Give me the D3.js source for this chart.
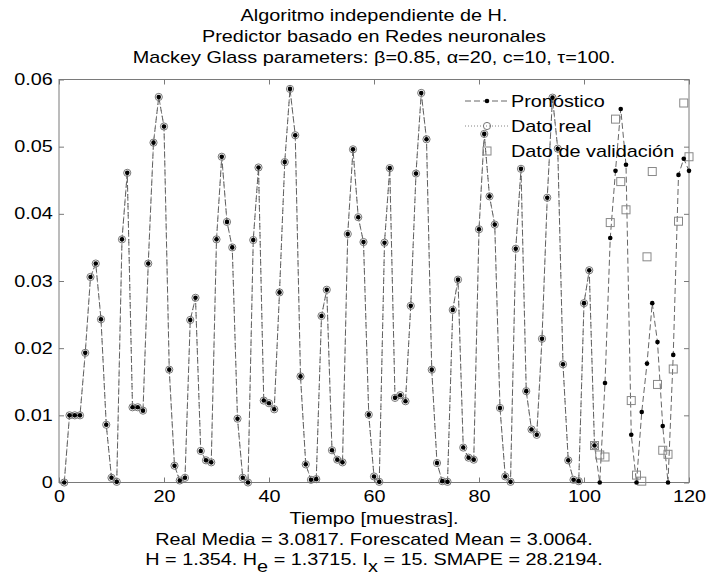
<!DOCTYPE html>
<html>
<head>
<meta charset="utf-8">
<script src="https://cdn.jsdelivr.net/npm/d3@7"></script>
<style>
  html, body { margin: 0; padding: 0; background: #fff; }
  svg { display: block; font-family: "Liberation Sans", Arial, Helvetica, sans-serif; }
</style>
</head>
<body>
<svg id="chart" width="707" height="576"></svg>
<script>
// Forecast (Pronóstico), samples 1..120
const forecast = [
  0.0000, 0.0100, 0.0100, 0.0100, 0.0193, 0.0306, 0.0326, 0.0243, 0.0086, 0.0007,
  0.0001, 0.0362, 0.0461, 0.0112, 0.0112, 0.0107, 0.0326, 0.0506, 0.0574, 0.0530,
  0.0168, 0.0025, 0.0003, 0.0007, 0.0242, 0.0275, 0.0047, 0.0033, 0.0030, 0.0362,
  0.0485, 0.0388, 0.0350, 0.0095, 0.0007, 0.0000, 0.0361, 0.0469, 0.0122, 0.0118,
  0.0109, 0.0283, 0.0477, 0.0586, 0.0517, 0.0158, 0.0027, 0.0004, 0.0005, 0.0248,
  0.0287, 0.0048, 0.0034, 0.0030, 0.0370, 0.0496, 0.0395, 0.0358, 0.0101, 0.0009,
  0.0001, 0.0357, 0.0468, 0.0126, 0.0130, 0.0121, 0.0263, 0.0460, 0.0580, 0.0511,
  0.0168, 0.0029, 0.0002, 0.0001, 0.0257, 0.0302, 0.0052, 0.0037, 0.0034, 0.0377,
  0.0519, 0.0426, 0.0384, 0.0111, 0.0009, 0.0001, 0.0348, 0.0467, 0.0136, 0.0079,
  0.0071, 0.0214, 0.0424, 0.0573, 0.0497, 0.0176, 0.0033, 0.0004, 0.0002, 0.0267,
  0.0316, 0.0055, 0.0000, 0.0148, 0.0364, 0.0464, 0.0556, 0.0473, 0.0071, 0.0000,
  0.0105, 0.0177, 0.0267, 0.0209, 0.0084, 0.0000, 0.0190, 0.0458, 0.0482, 0.0464
];

// Real data (Dato real), samples 1..102
const realData = [
  0.0000, 0.0100, 0.0100, 0.0100, 0.0193, 0.0306, 0.0326, 0.0243, 0.0086, 0.0007,
  0.0001, 0.0362, 0.0461, 0.0112, 0.0112, 0.0107, 0.0326, 0.0506, 0.0574, 0.0530,
  0.0168, 0.0025, 0.0003, 0.0007, 0.0242, 0.0275, 0.0047, 0.0033, 0.0030, 0.0362,
  0.0485, 0.0388, 0.0350, 0.0095, 0.0007, 0.0000, 0.0361, 0.0469, 0.0122, 0.0118,
  0.0109, 0.0283, 0.0477, 0.0586, 0.0517, 0.0158, 0.0027, 0.0004, 0.0005, 0.0248,
  0.0287, 0.0048, 0.0034, 0.0030, 0.0370, 0.0496, 0.0395, 0.0358, 0.0101, 0.0009,
  0.0001, 0.0357, 0.0468, 0.0126, 0.0130, 0.0121, 0.0263, 0.0460, 0.0580, 0.0511,
  0.0168, 0.0029, 0.0002, 0.0001, 0.0257, 0.0302, 0.0052, 0.0037, 0.0034, 0.0377,
  0.0519, 0.0426, 0.0384, 0.0111, 0.0009, 0.0001, 0.0348, 0.0467, 0.0136, 0.0079,
  0.0071, 0.0214, 0.0424, 0.0573, 0.0497, 0.0176, 0.0033, 0.0004, 0.0002, 0.0267,
  0.0316, 0.0055
];

// Validation data (Dato de validación), samples 102..120
const validationStart = 102;
const validation = [
  0.0055, 0.0041, 0.0038, 0.0387, 0.0541, 0.0448, 0.0406, 0.0122, 0.0011, 0.0002,
  0.0336, 0.0463, 0.0146, 0.0048, 0.0042, 0.0169, 0.0389, 0.0565, 0.0485
];

const xTicks = [0, 20, 40, 60, 80, 100, 120];
const yTicks = [0, 0.01, 0.02, 0.03, 0.04, 0.05, 0.06];
const titleLines = [
  "Algoritmo independiente de H.",
  "Predictor basado en Redes neuronales",
  "Mackey Glass parameters: \u03B2=0.85, \u03B1=20, c=10, \u03C4=100."
];
const legendLabels = ["Pronóstico", "Dato real", "Dato de validación"];

const svg = d3.select("#chart");
const plotLeft = 59, plotRight = 689, plotTop = 79.5, plotBottom = 482.5;

const x = d3.scaleLinear().domain([0, 120]).range([plotLeft, plotRight]);
const y = d3.scaleLinear().domain([0, 0.06]).range([plotBottom, plotTop]);

const frameColor = "#7a7a7a";
const fs = 16;
const sx = 1.24;   // horizontal stretch of all lettering

// Frame
svg.append("rect")
  .attr("x", plotLeft).attr("y", plotTop)
  .attr("width", plotRight - plotLeft).attr("height", plotBottom - plotTop)
  .attr("fill", "none").attr("stroke", frameColor).attr("stroke-width", 1);

// Axes with inward ticks on all four sides
const axisStyle = g => {
  g.select(".domain").remove();
  g.selectAll(".tick line").attr("stroke", frameColor);
  g.selectAll(".tick text").attr("fill", "#000").style("font-size", fs + "px")
    .style("font-family", "'Liberation Sans', Arial, sans-serif")
    .attr("transform", `scale(${sx},1)`);
};
svg.append("g").attr("transform", `translate(0,${plotBottom})`)
  .call(d3.axisBottom(x).tickValues(xTicks).tickSizeInner(-5).tickPadding(8).tickFormat(d3.format("d")))
  .call(axisStyle);
svg.append("g").attr("transform", `translate(0,${plotTop})`)
  .call(d3.axisTop(x).tickValues(xTicks).tickSizeInner(-5).tickFormat(""))
  .call(axisStyle);
svg.append("g").attr("transform", `translate(${plotLeft},0)`)
  .call(d3.axisLeft(y).tickValues(yTicks).tickSizeInner(-5).tickPadding(5).tickFormat(d => d === 0 ? "0" : d3.format(".2f")(d)))
  .call(axisStyle);
svg.append("g").attr("transform", `translate(${plotRight},0)`)
  .call(d3.axisRight(y).tickValues(yTicks).tickSizeInner(-5).tickFormat(""))
  .call(axisStyle);

const plot = svg.append("g");

const realPts = realData.map((v, i) => [i + 1, v]);
const fcPts = forecast.map((v, i) => [i + 1, v]);
const valPts = validation.map((v, i) => [validationStart + i, v]);
const line = d3.line().x(d => x(d[0])).y(d => y(d[1]));

// Real data: dotted line
plot.append("path").datum(realPts).attr("d", line)
  .attr("fill", "none").attr("stroke", "#666").attr("stroke-width", 0.8)
  .attr("stroke-dasharray", "1,2");

// Forecast: dashed line
plot.append("path").datum(fcPts).attr("d", line)
  .attr("fill", "none").attr("stroke", "#555").attr("stroke-width", 0.9)
  .attr("stroke-dasharray", "6,3");

// Real data circles
plot.selectAll("circle.real").data(realPts).join("circle")
  .attr("class", "real")
  .attr("cx", d => x(d[0])).attr("cy", d => y(d[1])).attr("r", 3.6)
  .attr("fill", "none").attr("stroke", "#777").attr("stroke-width", 1);

// Validation squares
const sq = 8;
plot.selectAll("rect.val").data(valPts).join("rect")
  .attr("class", "val")
  .attr("x", d => x(d[0]) - sq / 2).attr("y", d => y(d[1]) - sq / 2)
  .attr("width", sq).attr("height", sq)
  .attr("fill", "none").attr("stroke", "#888").attr("stroke-width", 1);

// Forecast dots
plot.selectAll("circle.fc").data(fcPts).join("circle")
  .attr("class", "fc")
  .attr("cx", d => x(d[0])).attr("cy", d => y(d[1])).attr("r", 2.3)
  .attr("fill", "#000");

// Stretched text helper
function label(parent, tx, ty, str, anchor) {
  return parent.append("text")
    .attr("transform", `translate(${tx},${ty}) scale(${sx},1)`)
    .attr("text-anchor", anchor || "middle")
    .style("font-size", fs + "px")
    .text(str);
}

// Legend (no box)
const lg = svg.append("g");
const lx0 = 465, lx1 = 508, lxm = 487, ltx = 511;
const ly = [101, 126, 151];
lg.append("line").attr("x1", lx0).attr("x2", lx1).attr("y1", ly[0]).attr("y2", ly[0])
  .attr("stroke", "#555").attr("stroke-width", 0.9).attr("stroke-dasharray", "6,3");
lg.append("circle").attr("cx", lxm).attr("cy", ly[0]).attr("r", 2.3).attr("fill", "#000");
lg.append("line").attr("x1", lx0).attr("x2", lx1).attr("y1", ly[1]).attr("y2", ly[1])
  .attr("stroke", "#666").attr("stroke-width", 0.8).attr("stroke-dasharray", "1,2");
lg.append("circle").attr("cx", lxm).attr("cy", ly[1]).attr("r", 3.6)
  .attr("fill", "none").attr("stroke", "#777");
lg.append("rect").attr("x", lxm - sq / 2).attr("y", ly[2] - sq / 2).attr("width", sq).attr("height", sq)
  .attr("fill", "none").attr("stroke", "#888");
legendLabels.forEach((t, i) => label(lg, ltx, ly[i] + 5.6, t, "start"));

// Title
const cx = (plotLeft + plotRight) / 2;
titleLines.forEach((t, i) => label(svg, cx, 21 + i * 21, t));

// X label and statistics
label(svg, cx, 524, "Tiempo [muestras].");
label(svg, cx, 545, "Real Media = 3.0817. Forescated Mean = 3.0064.");
const stat = label(svg, cx, 565, "");
stat.append("tspan").text("H = 1.354. H");
stat.append("tspan").attr("dy", 7).text("e");
stat.append("tspan").attr("dy", -7).text(" = 1.3715. I");
stat.append("tspan").attr("dy", 7).text("x");
stat.append("tspan").attr("dy", -7).text(" = 15. SMAPE = 28.2194.");
</script>
</body>
</html>
